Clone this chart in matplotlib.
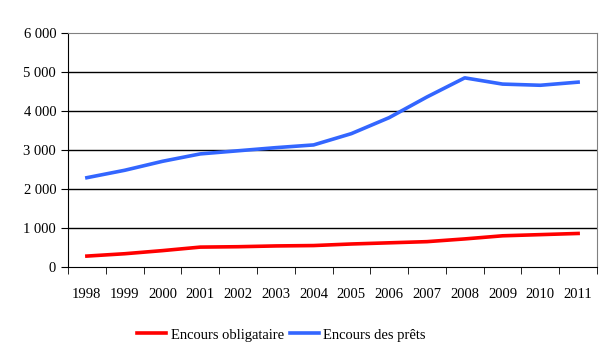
import matplotlib.pyplot as plt
import numpy as np

years = ['1998', '1999', '2000', '2001', '2002', '2003', '2004',
         '2005', '2006', '2007', '2008', '2009', '2010', '2011']
obligataire = [280, 340, 420, 510, 520, 540, 550, 590, 620, 650, 720, 800, 830, 860]
prets = [2290, 2480, 2710, 2900, 2980, 3060, 3130, 3420, 3830, 4360, 4850, 4690, 4660, 4740]

plt.rcParams['font.family'] = ['Liberation Serif', 'DejaVu Serif']
plt.rcParams['font.size'] = 10.5

fig = plt.figure(figsize=(6.16, 3.56), dpi=100)
ax = fig.add_axes([68/616, 1 - 267/356, (597-68)/616, (267-33)/356])

x = np.arange(len(years))
ax.plot(x, obligataire, color='#ff0000', lw=2.6, label='Encours obligataire')
ax.plot(x, prets, color='#3366ff', lw=2.6, label='Encours des prêts')

ax.set_xlim(-0.5, len(years) - 0.5)
ax.set_ylim(0, 6000)
ax.set_yticks(range(0, 6001, 1000))
ax.set_yticklabels([f'{v // 1000} 000' if v else '0' for v in range(0, 6001, 1000)])
ax.set_xticks(x)
ax.set_xticklabels(years)
ax.set_xticks(np.arange(-0.5, len(years), 1), minor=True)
ax.tick_params(axis='x', which='major', length=0, pad=15)
ax.tick_params(axis='x', which='minor', length=5, direction='out')
ax.tick_params(axis='y', length=5, direction='out')

for v in range(1000, 6000, 1000):
    ax.axhline(v, color='black', lw=1, zorder=0)
for s in ['top', 'right']:
    ax.spines[s].set_color('#808080')
for s in ['left', 'bottom']:
    ax.spines[s].set_color('black')

fig.legend(loc='center', bbox_to_anchor=(0.457, 0.059), ncol=2, frameon=False,
           handlelength=2.0, columnspacing=0.4, handletextpad=0.3)

fig.savefig('out.png', dpi=100)
